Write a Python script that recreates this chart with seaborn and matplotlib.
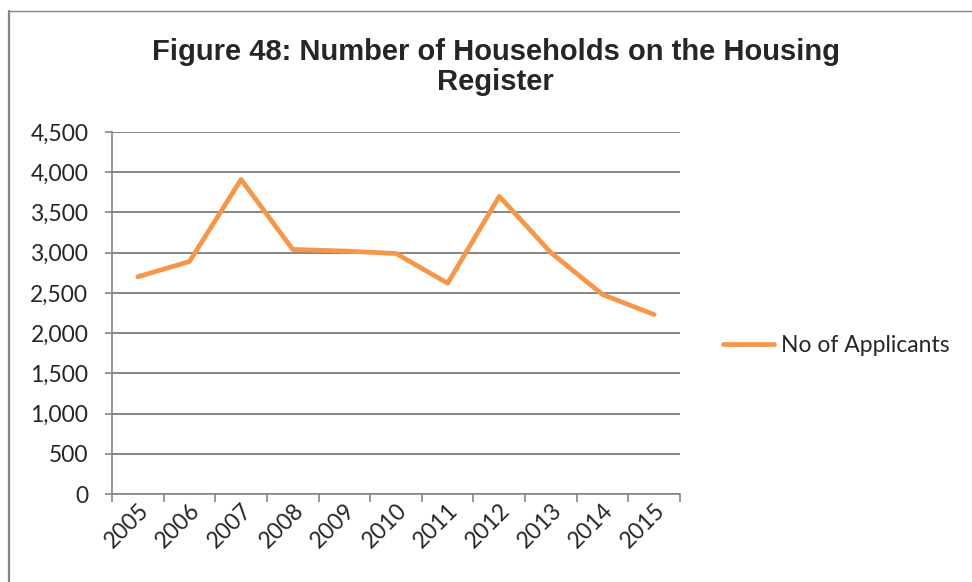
import numpy as np
import pandas as pd
import matplotlib
matplotlib.use("Agg")
import matplotlib.pyplot as plt
import seaborn as sns
from matplotlib.lines import Line2D

# ============================
# data
# ============================
years = ["2005", "2006", "2007", "2008", "2009", "2010",
         "2011", "2012", "2013", "2014", "2015"]
applicants = [2700, 2890, 3910, 3040, 3020, 2990, 2620, 3700, 3000, 2480, 2230]
y_ticks = [0, 500, 1000, 1500, 2000, 2500, 3000, 3500, 4000, 4500]

df = pd.DataFrame({"pos": np.arange(len(years)), "year": years, "No of Applicants": applicants})

sns.set_style("white")
plt.rcParams["font.family"] = ["Lato", "DejaVu Sans"]

grid_col = "#868686"
line_col = "#F79646"
fs = 16.5

fig = plt.figure(figsize=(9.72, 5.82), dpi=100)
# chart frame (only top and left edges visible in the crop)
fig.lines.append(Line2D([8 / 972, 1.0], [1 - 11 / 582] * 2, transform=fig.transFigure,
                        color=grid_col, linewidth=1.0))
fig.lines.append(Line2D([9 / 972] * 2, [0.0, 1 - 11 / 582], transform=fig.transFigure,
                        color=grid_col, linewidth=1.6))
ax = fig.add_axes([0.1152, 0.1512, 0.5844, 0.622])

sns.lineplot(data=df, x="pos", y="No of Applicants", ax=ax, color=line_col,
             linewidth=3.4, label="No of Applicants", solid_capstyle="round")

ax.set_xlim(-0.5, len(years) - 0.5)
ax.set_ylim(0, 4500)
ax.set_yticks(y_ticks)
ax.set_yticklabels([f"{v:,}" for v in y_ticks], fontsize=fs)
ax.yaxis.grid(True, color=grid_col, linewidth=1.4)
ax.set_axisbelow(True)

# ticks between categories, labels under the points
ax.set_xticks(np.arange(-0.5, len(years), 1.0))
ax.set_xticklabels([])
ax.set_xticks(np.arange(len(years)), minor=True)
ax.set_xticklabels(years, minor=True, rotation=45, ha="right",
                   rotation_mode="anchor", fontsize=fs)
ax.tick_params(axis="x", which="major", direction="out", length=6,
               color=grid_col, width=1.2, bottom=True)
ax.tick_params(axis="x", which="minor", length=0, pad=4)
ax.tick_params(axis="y", direction="out", length=5, color=grid_col, width=1.2,
               left=True, pad=12)

ax.set_xlabel("")
ax.set_ylabel("")
for side in ["top", "right"]:
    ax.spines[side].set_visible(False)
for side in ["left", "bottom"]:
    ax.spines[side].set_color(grid_col)
    ax.spines[side].set_linewidth(1.2)

ax.legend(loc="center left", bbox_to_anchor=(1.04, 0.41), frameon=False,
          fontsize=fs, handlelength=2.2, handletextpad=0.3)

fig.text(0.51, 0.885, "Figure 48: Number of Households on the Housing\nRegister",
         ha="center", va="center", fontsize=21, fontweight="bold",
         family=["Liberation Sans", "DejaVu Sans"], linespacing=1.12)

fig.savefig("out.png", dpi=100)
